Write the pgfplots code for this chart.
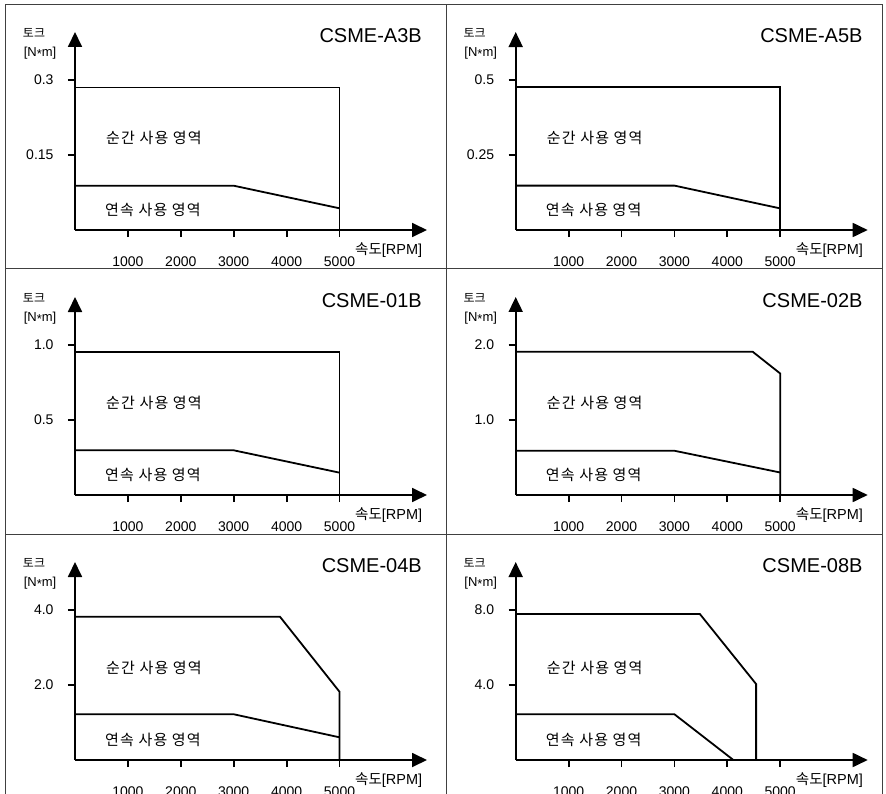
\documentclass[border=0pt]{standalone}
\usepackage{fontspec}
\setmainfont{Liberation Sans}
\newfontfamily\kr[LetterSpace=8]{Noto Sans CJK KR}
\newfontfamily\krn{Noto Sans CJK KR}
\usepackage{pgfplots}
\pgfplotsset{compat=1.18}
\usetikzlibrary{arrows.meta}

\pgfplotsset{
 curve/.style={black, line width=1.8pt, mark=none},
 panel/.style={
  scale only axis, width=352pt, height=198pt,
  xmin=0, xmax=6654, ymin=0,
  axis x line=bottom, axis y line=left,
  axis line style={line width=1.8pt, -{Triangle[length=15pt,width=14pt]}},
  xtick={1000,2000,3000,4000,5000},
  xticklabels={1000,2000,3000,4000,5000},
  tick align=outside, major tick length=7pt,
  tick style={line width=1.8pt, black},
  ticklabel style={font=\fontsize{14}{14}\selectfont},
  xticklabel shift=16pt,
  yticklabel shift=11pt,
  anchor=south west,
  clip=false,
 }
}

\newcommand{\paneltext}[3]{%
\begin{scope}[shift={(#1pt,-#2pt)}]
\node[anchor=east, inner sep=0pt, font=\fontsize{20}{20}\selectfont] at (347pt,194pt) {#3};
\node[inner sep=0pt, font=\krn\fontsize{12}{12}\selectfont] at (-41pt,197pt) {토크};
\node[inner sep=0pt, font=\fontsize{13}{13}\selectfont] at (-35pt,177pt) {[N\raisebox{-0.3ex}{*}m]};
\node[anchor=west, inner sep=0pt, font=\kr\fontsize{15}{15}\selectfont] at (31pt,92pt) {순간 사용 영역};
\node[anchor=west, inner sep=0pt, font=\kr\fontsize{15}{15}\selectfont] at (30pt,20pt) {연속 사용 영역};
\node[anchor=west, inner sep=0pt, font=\fontsize{14.5}{14.5}\selectfont] at (280pt,-20pt) {{\krn 속도}[RPM]};
\end{scope}}

\begin{document}
\begin{tikzpicture}
\useasboundingbox (0,0) rectangle (886pt,-794pt);
% grid
\draw[line width=1pt, black!75] (5pt,-794pt) -- (5pt,-5pt) -- (882pt,-5pt) -- (882pt,-794pt);
\draw[line width=1pt, black!75] (446pt,-5pt) -- (446pt,-794pt);
\draw[line width=1pt, black!75] (5pt,-269pt) -- (882pt,-269pt);
\draw[line width=1pt, black!75] (5pt,-534pt) -- (882pt,-534pt);

% CSME-A3B
\begin{axis}[panel, at={(75pt,-230pt)}, ymax=0.396, ytick={0.15,0.3}, yticklabels={0.15,0.3}]
\addplot[curve] coordinates {(0,0.285) (5000,0.285) (5000,0)};
\addplot[curve] coordinates {(0,0.0886) (3000,0.0886) (5000,0.0434)};
\end{axis}
\paneltext{75}{230}{CSME-A3B}

% CSME-A5B
\begin{axis}[panel, at={(515.7pt,-230pt)}, ymax=0.66, ytick={0.25,0.5}, yticklabels={0.25,0.5}]
\addplot[curve] coordinates {(0,0.476) (5000,0.476) (5000,0)};
\addplot[curve] coordinates {(0,0.148) (3000,0.148) (5000,0.072)};
\end{axis}
\paneltext{515.7}{230}{CSME-A5B}

% CSME-01B
\begin{axis}[panel, at={(75pt,-495pt)}, ymax=1.32, ytick={0.5,1.0}, yticklabels={0.5,1.0}]
\addplot[curve] coordinates {(0,0.951) (5000,0.951) (5000,0)};
\addplot[curve] coordinates {(0,0.298) (3000,0.298) (5000,0.149)};
\end{axis}
\paneltext{75}{495}{CSME-01B}

% CSME-02B
\begin{axis}[panel, at={(515.7pt,-495pt)}, ymax=2.64, ytick={1.0,2.0}, yticklabels={1.0,2.0}]
\addplot[curve] coordinates {(0,1.91) (4480,1.91) (5000,1.62) (5000,0)};
\addplot[curve] coordinates {(0,0.59) (3000,0.59) (5000,0.30)};
\end{axis}
\paneltext{515.7}{495}{CSME-02B}

% CSME-04B
\begin{axis}[panel, at={(75pt,-760pt)}, ymax=5.28, ytick={2.0,4.0}, yticklabels={2.0,4.0}]
\addplot[curve] coordinates {(0,3.82) (3875,3.82) (5000,1.82) (5000,0)};
\addplot[curve] coordinates {(0,1.22) (3000,1.22) (5000,0.605)};
\end{axis}
\paneltext{75}{760}{CSME-04B}

% CSME-08B
\begin{axis}[panel, at={(515.7pt,-760pt)}, ymax=10.56, ytick={4.0,8.0}, yticklabels={4.0,8.0}]
\addplot[curve] coordinates {(0,7.79) (3480,7.79) (4545,4.05) (4545,0)};
\addplot[curve] coordinates {(0,2.44) (3000,2.44) (4115,0)};
\end{axis}
\paneltext{515.7}{760}{CSME-08B}
\end{tikzpicture}
\end{document}
